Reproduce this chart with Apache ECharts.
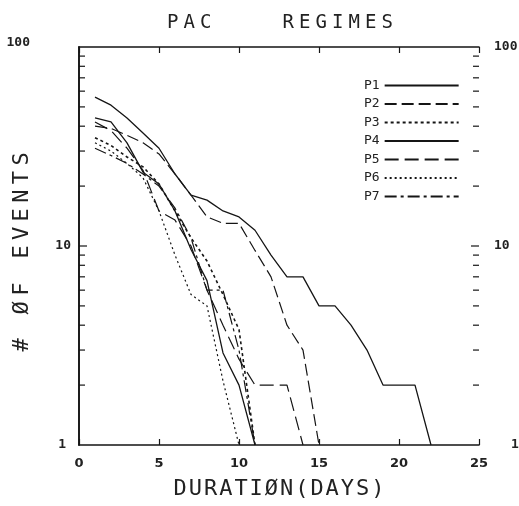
<!DOCTYPE html>
<html><head><meta charset="utf-8">
<script src="https://cdn.jsdelivr.net/npm/echarts@6/dist/echarts.min.js"></script>
<style>html,body{margin:0;padding:0;background:#fff}#c{width:519px;height:506px}</style>
</head><body><div id="c"></div>
<script>
const titleText = 'PAC    REGIMES';
const xAxisTitle = 'DURATIØN(DAYS)';
const yAxisTitle = '# ØF EVENTS';
const seriesNames = ['P1','P2','P3','P4','P5','P6','P7'];
const days = [1,2,3,4,5,6,7,8,9,10,11,12,13,14,15,16,17,18,19,20,21,22];
const p1 = [56,51,44,37,31,23,18,17,15,14,12,9,7,7,5,5,4,3,2,2,2,1];
const p2 = [40,39,36,33,29,23,18,14,13,13,9.5,7,4,3,1];
const p3 = [35,32,28,25,20.5,15,11,8.4,5.7,3.8,1];
const p4 = [44,42,33,23.5,20.5,15,9.6,6.7,2.9,2,1];
const p5 = [42,38,31,24,15,13.5,10,6,4,2.7,2,2,2,1];
const p6 = [33,30,26,22,15,9,5.7,5,2.1,1];
const p7 = [31,28.5,26,23,20,15.5,11,6,6,3,1];
const xTickValues = [0,5,10,15,20,25];
const yTickValues = [2,3,4,5,6,7,8,9,10,20,30,40,50,60,70,80,90];
const yLabelValues = [1,10,100];

const allSeries = [p1,p2,p3,p4,p5,p6,p7];
const dashes = ['solid',[12,5],[3,3],'solid',[14,6],[2,3],[12,4,3,4]];
const widths = [1.3,1.2,1.6,1.3,1.2,1.2,1.2];
const INK = '#151515';
const MONO = 'DejaVu Sans Mono';

function spaced(str, tag){ return str.split('').map(ch => '{' + tag + '|' + ch + '}').join(''); }

const chart = echarts.init(document.getElementById('c'), null, {renderer:'canvas'});
const xMin = xTickValues[0], xMax = xTickValues[xTickValues.length-1];

function tickSeries(side){
  return {
    type:'custom', silent:true, z:5, xAxisIndex:0, yAxisIndex:0,
    data: yTickValues.map(v => [v]),
    encode:{y:0},
    renderItem(params, api){
      const v = api.value(0);
      const p = api.coord([side === 'left' ? xMin : xMax, v]);
      const len = (v === 10) ? 8 : 6;
      const dx = side === 'left' ? len : -len;
      return {type:'line', shape:{x1:p[0], y1:p[1], x2:p[0]+dx, y2:p[1]}, style:{stroke:INK, lineWidth:1.2}};
    }
  };
}

const option = {
  animation:false,
  backgroundColor:'#fff',
  title:{
    text: spaced(titleText,'t'), left:162, top:9,
    textStyle:{ fontWeight:'normal', rich:{ t:{ width:16.5, fontFamily:MONO, fontSize:19, fontWeight:'normal', color:'#222' } } }
  },
  graphic:[{
    type:'text', x:22, y:252, rotation:Math.PI/2, silent:true,
    style:{ text: spaced(yAxisTitle,'y'), align:'center', verticalAlign:'middle',
      rich:{ y:{ width:18.6, fontFamily:MONO, fontSize:22, fill:'#222' } } }
  }],
  legend:{
    data: seriesNames, orient:'vertical', left:359, top:74, align:'right',
    itemWidth:74, itemHeight:12, itemGap:5.5,
    itemStyle:{ opacity:0, borderWidth:0 },
    textStyle:{ fontFamily:MONO, fontSize:13, color:'#222', lineHeight:12 }
  },
  grid:{ left:79, right:40, top:47, bottom:61, show:false, containLabel:false, outerBoundsMode:'none' },
  xAxis:[{
    type:'value', min:xMin, max:xMax, interval:5, position:'bottom',
    name: spaced(xAxisTitle,'x'), nameLocation:'middle', nameGap:33,
    nameTextStyle:{ rich:{ x:{ width:15.2, fontFamily:MONO, fontSize:22, color:'#222' } } },
    axisLine:{ show:true, lineStyle:{ color:INK, width:1.6 } },
    axisTick:{ show:true, inside:true, length:6, lineStyle:{ color:INK, width:1.2 } },
    axisLabel:{ margin:12, fontFamily:'DejaVu Sans', fontWeight:'bold', fontSize:13, color:'#222' },
    splitLine:{ show:false }
  },{
    type:'value', min:xMin, max:xMax, interval:5, position:'top',
    axisLine:{ show:true, lineStyle:{ color:INK, width:1.6 } },
    axisTick:{ show:true, inside:true, length:6, lineStyle:{ color:INK, width:1.2 } },
    axisLabel:{ show:false }, splitLine:{ show:false }
  }],
  yAxis:[{
    type:'log', logBase:10, min:yLabelValues[0], max:yLabelValues[2], position:'left',
    axisLine:{ show:true, lineStyle:{ color:INK, width:1.6 } },
    axisTick:{ show:false },
    axisLabel:{
      margin:8,
      formatter: v => v === 100 ? '{f|' + v + '}' : (v === 1 ? '{o|' + v + '}' : '{n|' + v + '}'),
      rich:{
        f:{ fontFamily:MONO, fontSize:13, fontWeight:'bold', color:'#222', padding:[0,41,8,0] },
        n:{ fontFamily:MONO, fontSize:13, fontWeight:'bold', color:'#222' },
        o:{ fontFamily:MONO, fontSize:13, fontWeight:'bold', color:'#222', padding:[0,5,0,0] }
      }
    },
    splitLine:{ show:false }
  },{
    type:'log', logBase:10, min:yLabelValues[0], max:yLabelValues[2], position:'right',
    axisLine:{ show:true, lineStyle:{ color:INK, width:1.6 } },
    axisTick:{ show:false },
    axisLabel:{
      margin:15,
      formatter: v => v === 1 ? '{o|' + v + '}' : '{n|' + v + '}',
      rich:{
        n:{ fontFamily:MONO, fontSize:13, fontWeight:'bold', color:'#222' },
        o:{ fontFamily:MONO, fontSize:13, fontWeight:'bold', color:'#222', padding:[0,0,0,17] }
      }
    },
    splitLine:{ show:false }
  }],
  series: allSeries.map((vals, i) => ({
    name: seriesNames[i], type:'line', xAxisIndex:0, yAxisIndex:0,
    data: vals.map((v, j) => [days[j], v]),
    symbol:'none', showSymbol:false, smooth:false,
    lineStyle:{ color:INK, width:widths[i], type:dashes[i] },
    itemStyle:{ color:INK }
  })).concat([tickSeries('left'), tickSeries('right')])
};
chart.setOption(option);
</script></body></html>
